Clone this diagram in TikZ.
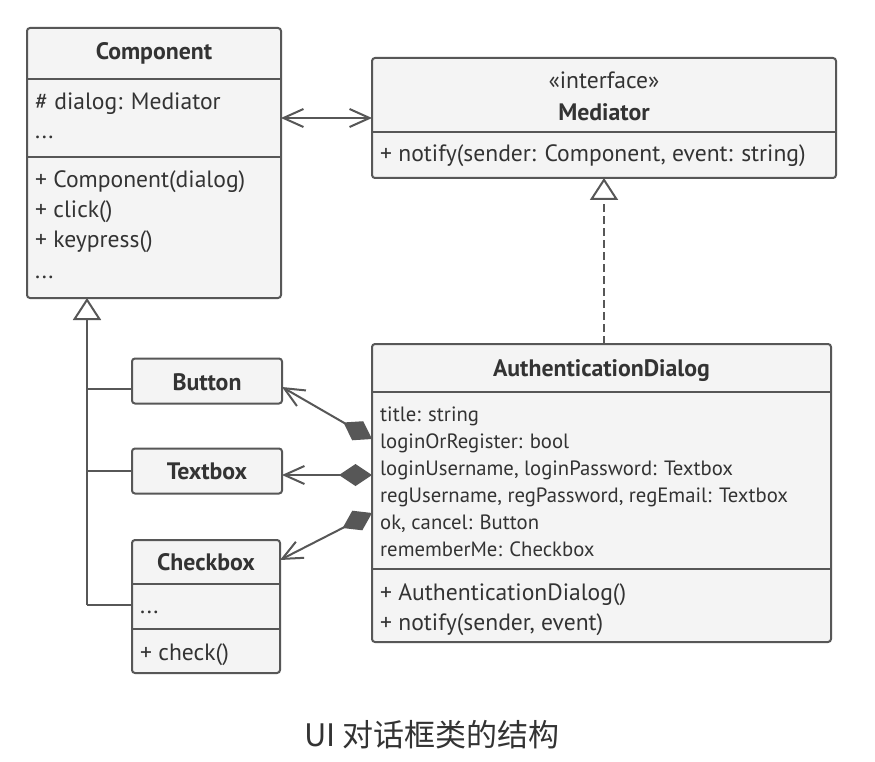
\documentclass[tikz,border=0pt]{standalone}
\usepackage{fontspec}
\setmainfont{PT Sans}
\newfontfamily\cjk{Noto Sans CJK SC}
\usetikzlibrary{arrows.meta}
\definecolor{ln}{HTML}{575757}
\definecolor{bg}{HTML}{F4F4F4}
\definecolor{tx}{HTML}{333333}
\begin{document}
\begin{tikzpicture}[x=1pt,y=-1pt,
  box/.style={draw=ln, fill=bg, line width=2pt, rounded corners=3pt, inner sep=0pt, outer sep=0pt},
  dv/.style={draw=ln, line width=2pt},
  tl/.style={anchor=base west, inner sep=0pt, text=tx, font=\fontsize{23.6}{28}\selectfont},
  fl/.style={anchor=base west, inner sep=0pt, text=tx, font=\fontsize{20.7}{24}\selectfont},
  hd/.style={anchor=base, inner sep=0pt, text=tx, font=\fontsize{23.8}{28}\selectfont\bfseries},
  conn/.style={draw=ln, line width=2pt},
  barbtip/.tip={Straight Barb[length=20pt,width=18pt,line width=2pt]},
  diatip/.tip={Diamond[length=33pt,width=22pt,fill=ln]},
  tritip/.tip={Triangle[open,fill=white,length=22pt,width=28pt,line width=2pt]}
]
\fill[white] (0,0) rectangle (875,762);
\useasboundingbox (0,0) rectangle (875,762);

% Component
\node[box, minimum width=254pt, minimum height=270pt] (comp) at (154,163) {};
\draw[dv] (27,79) -- (281,79);
\draw[dv] (27,157) -- (281,157);
\node[hd] (compt) at (154,60) {Component};
\node[tl] (c1) at (35,110) {\# dialog: Mediator};
\node[tl] (c2) at (35,139) {...};
\node[tl] (c3) at (35,188) {+ Component(dialog)};
\node[tl] (c4) at (35,218) {+ click()};
\node[tl] (c5) at (35,247) {+ keypress()};
\node[tl] (c6) at (35,278) {...};

% Mediator
\node[box, minimum width=464pt, minimum height=120pt] (med) at (604,118) {};
\draw[dv] (372,132) -- (836,132);
\node[anchor=base, inner sep=0pt, text=tx, font=\fontsize{23.6}{28}\selectfont] (medi) at (604,89) {«interface»};
\node[hd] (medt) at (604,121) {Mediator};
\node[tl] (m1) at (380,162) {+ notify(sender: Component, event: string)};

% AuthenticationDialog
\node[box, minimum width=459pt, minimum height=298pt] (ad) at (601.5,493) {};
\draw[dv] (372,392) -- (831,392);
\draw[dv] (372,569) -- (831,569);
\node[hd] (adt) at (601.5,376) {AuthenticationDialog};
\node[fl] (a1) at (380,421) {title: string};
\node[fl] (a2) at (380,448) {loginOrRegister: bool};
\node[fl] (a3) at (380,475) {loginUsername, loginPassword: Textbox};
\node[fl] (a4) at (380,502) {regUsername, regPassword, regEmail: Textbox};
\node[fl] (a5) at (380,529) {ok, cancel: Button};
\node[fl] (a6) at (380,556) {rememberMe: Checkbox};
\node[tl] (a7) at (380,600) {+ AuthenticationDialog()};
\node[tl] (a8) at (380,630) {+ notify(sender, event)};

% Button
\node[box, minimum width=150pt, minimum height=45pt] (btn) at (207,381) {};
\node[hd] (btnt) at (207,390) {Button};
% Textbox
\node[box, minimum width=150pt, minimum height=45pt] (tb) at (207,471) {};
\node[hd] (tbt) at (207,479) {Textbox};
% Checkbox
\node[box, minimum width=148pt, minimum height=133pt] (cb) at (206,606.5) {};
\draw[dv] (132,584) -- (280,584);
\draw[dv] (132,629) -- (280,629);
\node[hd] (cbt) at (206,570) {Checkbox};
\node[tl] (cb1) at (140,613) {...};
\node[tl] (cb2) at (140,660) {+ check()};

% Component <-> Mediator
\draw[conn, barbtip-barbtip] (med.west) -- (med.west -| comp.east);

% realization
\draw[conn, dash pattern=on 8pt off 4pt, -tritip] (med.south |- ad.north) -- (med.south);

% inheritance tree
\coordinate (jn) at (87,605);
\draw[conn, -tritip] (jn) -- (jn |- comp.south);
\draw[conn] (jn) -- (jn -| cb.west);
\draw[conn] ([yshift=-8pt]btn.west) -- ([yshift=-8pt]btn.west -| jn);
\draw[conn] (tb.west) -- (tb.west -| jn);

% compositions
\draw[conn, diatip-barbtip] ([yshift=54pt]ad.west) -- ([yshift=-6pt]btn.east);
\draw[conn, diatip-barbtip] ([yshift=18pt]ad.west) -- ([yshift=-4pt]tb.east);
\draw[conn, diatip-barbtip] ([yshift=-20pt]ad.west) -- ([yshift=46.5pt]cb.east);

% caption
\node[anchor=center, inner sep=0pt, text=tx, font=\cjk\fontsize{31}{36}\selectfont] (cap) at (432,735) {UI 对话框类的结构};
\end{tikzpicture}
\end{document}
